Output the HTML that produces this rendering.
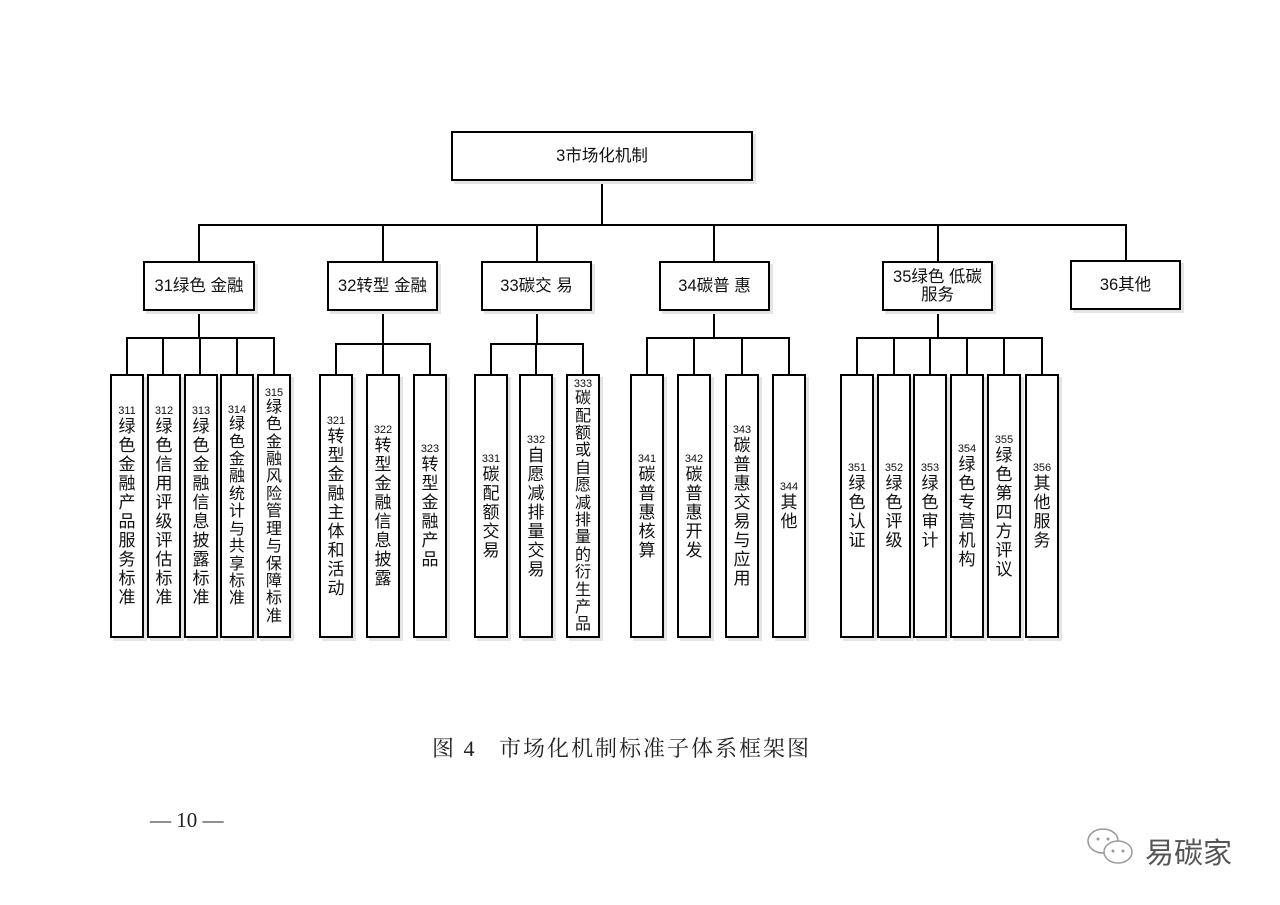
<!DOCTYPE html>
<html><head><meta charset="utf-8"><style>
body{margin:0;width:1280px;height:905px;background:#fff;position:relative;overflow:hidden;font-family:"Liberation Sans","Noto Sans CJK SC",sans-serif;}
.b{position:absolute;border:2px solid #000;box-sizing:border-box;background:#fff;box-shadow:3px 3px 0 #e4e4e4;display:flex;align-items:center;justify-content:center;text-align:center;color:#111;}
.t{font-size:16.5px;line-height:18px;}
.c{top:374px;height:264px;width:34px;flex-direction:column;}
.c .n{font-size:11px;line-height:12px;}
.c .v{font-size:17px;line-height:19px;width:18px;}
.c .v.s{line-height:17.4px;font-size:16px;}
.l{position:absolute;background:#000;}
</style></head><body>
<div class="l" style="left:601px;top:180px;width:2px;height:46px"></div>
<div class="l" style="left:199px;top:224px;width:928px;height:2px"></div>
<div class="l" style="left:198px;top:224px;width:2px;height:38px"></div>
<div class="l" style="left:382px;top:224px;width:2px;height:38px"></div>
<div class="l" style="left:536px;top:224px;width:2px;height:38px"></div>
<div class="l" style="left:713px;top:224px;width:2px;height:38px"></div>
<div class="l" style="left:937px;top:224px;width:2px;height:38px"></div>
<div class="l" style="left:1125px;top:224px;width:2px;height:38px"></div>
<div class="l" style="left:198px;top:310px;width:2px;height:28px"></div>
<div class="l" style="left:126px;top:337px;width:149px;height:2px"></div>
<div class="l" style="left:126px;top:337px;width:2px;height:38px"></div>
<div class="l" style="left:162px;top:337px;width:2px;height:38px"></div>
<div class="l" style="left:199px;top:337px;width:2px;height:38px"></div>
<div class="l" style="left:236px;top:337px;width:2px;height:38px"></div>
<div class="l" style="left:273px;top:337px;width:2px;height:38px"></div>
<div class="l" style="left:382px;top:310px;width:2px;height:34px"></div>
<div class="l" style="left:335px;top:343px;width:96px;height:2px"></div>
<div class="l" style="left:335px;top:343px;width:2px;height:32px"></div>
<div class="l" style="left:382px;top:343px;width:2px;height:32px"></div>
<div class="l" style="left:429px;top:343px;width:2px;height:32px"></div>
<div class="l" style="left:536px;top:310px;width:2px;height:34px"></div>
<div class="l" style="left:490px;top:343px;width:94px;height:2px"></div>
<div class="l" style="left:490px;top:343px;width:2px;height:32px"></div>
<div class="l" style="left:535px;top:343px;width:2px;height:32px"></div>
<div class="l" style="left:582px;top:343px;width:2px;height:32px"></div>
<div class="l" style="left:713px;top:310px;width:2px;height:28px"></div>
<div class="l" style="left:646px;top:337px;width:144px;height:2px"></div>
<div class="l" style="left:646px;top:337px;width:2px;height:38px"></div>
<div class="l" style="left:693px;top:337px;width:2px;height:38px"></div>
<div class="l" style="left:741px;top:337px;width:2px;height:38px"></div>
<div class="l" style="left:788px;top:337px;width:2px;height:38px"></div>
<div class="l" style="left:937px;top:310px;width:2px;height:28px"></div>
<div class="l" style="left:856px;top:337px;width:187px;height:2px"></div>
<div class="l" style="left:856px;top:337px;width:2px;height:38px"></div>
<div class="l" style="left:893px;top:337px;width:2px;height:38px"></div>
<div class="l" style="left:929px;top:337px;width:2px;height:38px"></div>
<div class="l" style="left:966px;top:337px;width:2px;height:38px"></div>
<div class="l" style="left:1003px;top:337px;width:2px;height:38px"></div>
<div class="l" style="left:1041px;top:337px;width:2px;height:38px"></div>

<div class="b t" style="left:451px;top:131px;width:302px;height:50px">3市场化机制</div>
<div class="b t" style="left:143px;top:261px;width:112px;height:50px">31绿色 金融</div>
<div class="b t" style="left:327px;top:261px;width:111px;height:50px">32转型 金融</div>
<div class="b t" style="left:481px;top:261px;width:111px;height:50px">33碳交 易</div>
<div class="b t" style="left:659px;top:261px;width:111px;height:50px">34碳普 惠</div>
<div class="b t" style="left:882px;top:261px;width:111px;height:50px">35绿色 低碳<br>服务</div>
<div class="b t" style="left:1070px;top:260px;width:111px;height:50px">36其他</div>

<div class="b c" style="left:110px"><div class="n">311</div><div class="v">绿色金融产品服务标准</div></div>
<div class="b c" style="left:147px"><div class="n">312</div><div class="v">绿色信用评级评估标准</div></div>
<div class="b c" style="left:184px"><div class="n">313</div><div class="v">绿色金融信息披露标准</div></div>
<div class="b c" style="left:220px"><div class="n">314</div><div class="v s">绿色金融统计与共享标准</div></div>
<div class="b c" style="left:257px"><div class="n">315</div><div class="v s">绿色金融风险管理与保障标准</div></div>
<div class="b c" style="left:319px"><div class="n">321</div><div class="v">转型金融主体和活动</div></div>
<div class="b c" style="left:366px"><div class="n">322</div><div class="v">转型金融信息披露</div></div>
<div class="b c" style="left:413px"><div class="n">323</div><div class="v">转型金融产品</div></div>
<div class="b c" style="left:474px"><div class="n">331</div><div class="v">碳配额交易</div></div>
<div class="b c" style="left:519px"><div class="n">332</div><div class="v">自愿减排量交易</div></div>
<div class="b c" style="left:566px"><div class="n">333</div><div class="v s">碳配额或自愿减排量的衍生产品</div></div>
<div class="b c" style="left:630px"><div class="n">341</div><div class="v">碳普惠核算</div></div>
<div class="b c" style="left:677px"><div class="n">342</div><div class="v">碳普惠开发</div></div>
<div class="b c" style="left:725px"><div class="n">343</div><div class="v">碳普惠交易与应用</div></div>
<div class="b c" style="left:772px"><div class="n">344</div><div class="v">其他</div></div>
<div class="b c" style="left:840px"><div class="n">351</div><div class="v">绿色认证</div></div>
<div class="b c" style="left:877px"><div class="n">352</div><div class="v">绿色评级</div></div>
<div class="b c" style="left:913px"><div class="n">353</div><div class="v">绿色审计</div></div>
<div class="b c" style="left:950px"><div class="n">354</div><div class="v">绿色专营机构</div></div>
<div class="b c" style="left:987px"><div class="n">355</div><div class="v">绿色第四方评议</div></div>
<div class="b c" style="left:1025px"><div class="n">356</div><div class="v">其他服务</div></div>

<div style="position:absolute;left:432px;top:732px;font-family:'Liberation Serif','Noto Serif CJK SC',serif;font-size:22px;color:#222;letter-spacing:2px;white-space:nowrap">图 4&nbsp;&nbsp;&nbsp;市场化机制标准子体系框架图</div>
<div style="position:absolute;left:150px;top:808px;font-family:'Liberation Serif','Noto Serif CJK SC',serif;font-size:21px;color:#222;white-space:nowrap">— 10 —</div>
<svg style="position:absolute;left:1085px;top:825px" width="55" height="45"><g fill="#fff" stroke="#999" stroke-width="1.5"><ellipse cx="18" cy="16" rx="15" ry="12"/><ellipse cx="33" cy="27" rx="14" ry="11"/></g><g fill="#999"><circle cx="13" cy="14" r="1.5"/><circle cx="23" cy="14" r="1.5"/><circle cx="28" cy="26" r="1.5"/><circle cx="38" cy="26" r="1.5"/></g></svg>
<div style="position:absolute;left:1145px;top:830px;font-size:29px;color:#555;white-space:nowrap;font-family:'Noto Sans CJK SC',sans-serif">易碳家</div>
</body></html>
